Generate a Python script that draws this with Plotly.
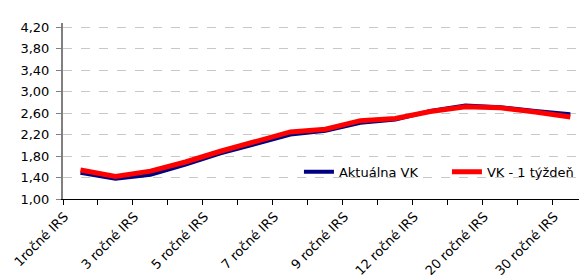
import plotly.graph_objects as go

categories = ["1ročné IRS", "2 ročné IRS", "3 ročné IRS", "4 ročné IRS", "5 ročné IRS",
              "6 ročné IRS", "7 ročné IRS", "8 ročné IRS", "9 ročné IRS", "10 ročné IRS",
              "12 ročné IRS", "15 ročné IRS", "20 ročné IRS", "25 ročné IRS", "30 ročné IRS"]
aktualna_vk = [1.49, 1.38, 1.45, 1.64, 1.85, 2.03, 2.20, 2.27, 2.42, 2.48, 2.64, 2.74, 2.71, 2.64, 2.58]
vk_1_tyzden = [1.54, 1.42, 1.52, 1.69, 1.89, 2.08, 2.25, 2.30, 2.46, 2.50, 2.63, 2.72, 2.70, 2.62, 2.53]
y_ticks = [1.0, 1.4, 1.8, 2.2, 2.6, 3.0, 3.4, 3.8, 4.2]

idx = list(range(len(categories)))
shown = idx[::2]

FONT = "DejaVu Sans"
fig = go.Figure()
fig.add_trace(go.Scatter(x=idx, y=aktualna_vk, mode="lines", name="Aktuálna VK",
                         line=dict(color="#000080", width=4)))
fig.add_trace(go.Scatter(x=idx, y=vk_1_tyzden, mode="lines", name="VK - 1 týždeň",
                         line=dict(color="#FF0000", width=5)))

fig.update_layout(
    width=587, height=279,
    margin=dict(l=55, r=0, t=15, b=88),
    paper_bgcolor="white", plot_bgcolor="white",
    separators=", ",
    font=dict(family=FONT, size=13, color="#000"),
    showlegend=True,
    legend=dict(orientation="h", x=0.452, xanchor="left", y=0.155, yanchor="middle",
                bgcolor="rgba(0,0,0,0)", font=dict(size=13), itemwidth=30,
                entrywidth=103, entrywidthmode="pixels",
                traceorder="normal"),
)
fig.update_xaxes(
    range=[-0.5, 14.42],
    tickmode="array", tickvals=shown, ticktext=[categories[i] for i in shown],
    tickangle=-45, ticks="", showgrid=False, zeroline=False,
    showline=True, linecolor="#000", linewidth=1,
    tickfont=dict(size=13), ticklabelshift=-16, ticklabelstandoff=4,
    minor=dict(tickmode="array", tickvals=[i - 0.5 for i in idx] + [len(idx) - 0.5],
               ticks="outside", ticklen=5, tickcolor="#000", showgrid=False),
)
fig.update_yaxes(
    range=[1.0, 4.28],
    tickmode="array", tickvals=y_ticks, tickformat=".2f",
    ticks="outside", ticklen=5, tickcolor="#808080",
    showline=True, linecolor="#808080", linewidth=2,
    showgrid=True, gridcolor="#c8c8c8", griddash="dash", gridwidth=1,
    zeroline=False, tickfont=dict(size=13), ticklabelstandoff=4,
)
fig.write_html("out.html")
